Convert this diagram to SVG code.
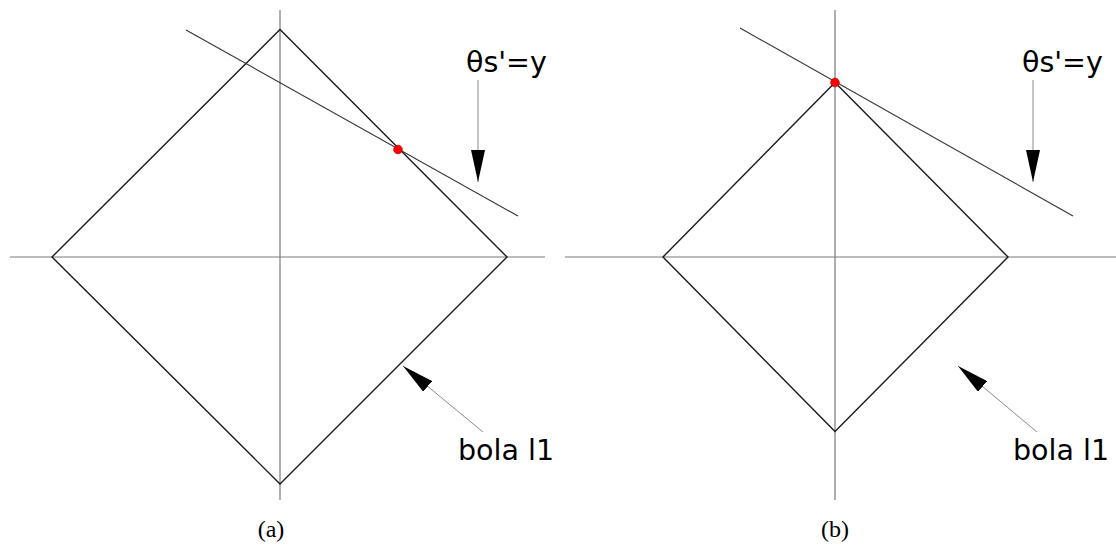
<svg xmlns="http://www.w3.org/2000/svg" width="1116" height="545" viewBox="0 0 1116 545">
<style>
.axis{stroke:#7a7a7a;stroke-width:1.2;fill:none}
.ball{stroke:#1a1a1a;stroke-width:1.4;fill:none}
.tan{stroke:#333;stroke-width:1.1;fill:none}
.ptr{stroke:#8c8c8c;stroke-width:1;fill:none}
.lbl{font-family:"DejaVu Sans",sans-serif;font-size:28.5px;fill:#000}
.cap{font-family:"Liberation Serif",serif;font-size:24px;fill:#000;text-anchor:middle}
.dot{fill:#ff0000;stroke:#c00000;stroke-width:0.8}
</style>
<defs>
<marker id="ah" viewBox="0 0 32 14" refX="32" refY="7" markerWidth="32" markerHeight="14" markerUnits="userSpaceOnUse" orient="auto">
<path d="M0,0 L32,7 L0,14 z" fill="#000"/>
</marker>
</defs>
<rect width="1116" height="545" fill="#fff"/>
<g id="panel-a">
<g id="axes-a">
<line class="axis" x1="10" y1="257" x2="545" y2="257"/>
<line class="axis" x1="280" y1="10" x2="280" y2="500"/>
</g>
<g id="ball-a"><polygon class="ball" points="280,29.5 507,257 280,484 52,257"/></g>
<g id="tangent-a"><line class="tan" x1="186" y1="30" x2="518" y2="216"/></g>
<g id="dot-a"><circle class="dot" cx="398" cy="149.5" r="4.3"/></g>
<g id="label-theta-a"><text class="lbl" x="466" y="72">θs'=y</text></g>
<g id="label-bola-a"><text class="lbl" x="458" y="460">bola l1</text></g>
<g id="cap-a"><text class="cap" x="271" y="537">(a)</text></g>
</g>
<g id="panel-b">
<g id="axes-b">
<line class="axis" x1="565" y1="257" x2="1116" y2="257"/>
<line class="axis" x1="835" y1="10" x2="835" y2="500"/>
</g>
<g id="ball-b"><polygon class="ball" points="835,82.5 1008,257 835,431.5 663,257"/></g>
<g id="tangent-b"><line class="tan" x1="740" y1="28" x2="1073" y2="216"/></g>
<g id="dot-b"><circle class="dot" cx="835" cy="82.5" r="4.3"/></g>
<g id="label-theta-b"><text class="lbl" x="1022" y="72">θs'=y</text></g>
<g id="label-bola-b"><text class="lbl" x="1013" y="460">bola l1</text></g>
<g id="cap-b"><text class="cap" x="835" y="537">(b)</text></g>
</g>
<g id="connectors">
<line class="ptr" x1="478" y1="80" x2="478" y2="182" marker-end="url(#ah)"/>
<line class="ptr" x1="483" y1="432" x2="403" y2="366" marker-end="url(#ah)"/>
<line class="ptr" x1="1033" y1="80" x2="1033" y2="182" marker-end="url(#ah)"/>
<line class="ptr" x1="1037" y1="432" x2="958" y2="366" marker-end="url(#ah)"/>
</g>
</svg>
